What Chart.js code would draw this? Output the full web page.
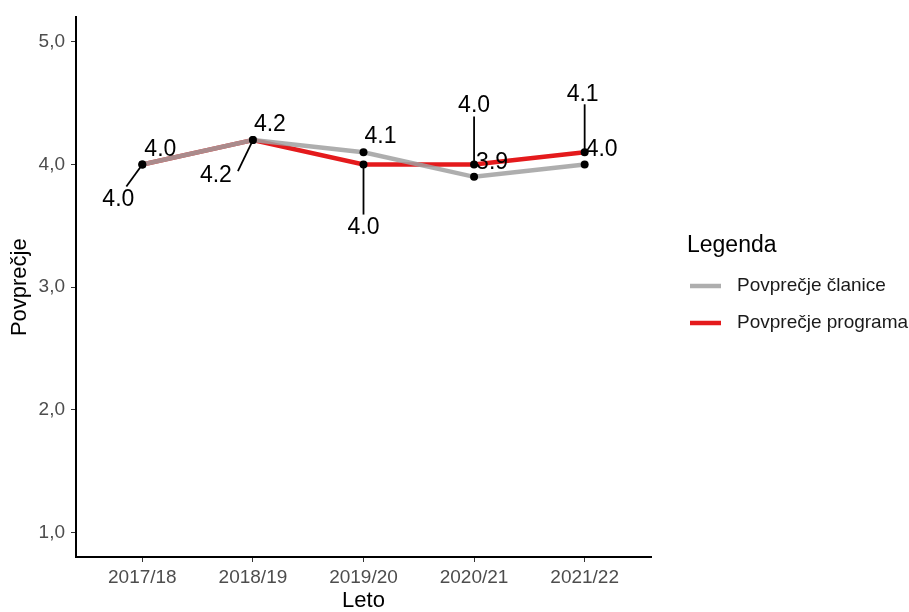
<!DOCTYPE html>
<html lang="sl">
<head>
    <meta charset="UTF-8">
    <title>Povprečje</title>
    <script src="https://cdn.jsdelivr.net/npm/chart.js"></script>
    <style>
        * {
            margin: 0;
            padding: 0;
            box-sizing: border-box;
        }

        body {
            background: white;
            font-family: "Liberation Sans", Arial, sans-serif;
        }

        .chart-wrap {
            width: 909px;
            height: 612px;
        }
    </style>
</head>
<body>
    <div class="chart-wrap">
        <canvas id="avg-chart"></canvas>
    </div>

    <script>
        // data
        const years = ['2017/18', '2018/19', '2019/20', '2020/21', '2021/22'];
        const clanice = [4.0, 4.2, 4.1, 3.9, 4.0];
        const programa = [4.0, 4.2, 4.0, 4.0, 4.1];
        const yTicks = [1, 2, 3, 4, 5];

        // label placement (px offsets from the point), like ggrepel did it
        const claniceLabelOffsets = [[18, -15], [17, -15], [17, -16], [18, -14], [17, -15]];
        const programaLabelOffsets = [[-24, 35], [-37, 36], [0, 63], [0, -59], [-2, -58]];
        const programaLeaderEnds = [[-16, 22], [-15, 31], [0, 50], [0, -48], [0, -48]];

        const FONT = '"Liberation Sans", Arial, sans-serif';
        const GRAY = 'rgba(160,160,160,0.85)';
        const RED = '#e41a1c';

        const pointLabels = {
            id: 'pointLabels',
            afterDatasetsDraw(chart) {
                const ctx = chart.ctx;
                const x = chart.scales.x, y = chart.scales.y;
                const sets = [
                    { values: clanice, offsets: claniceLabelOffsets, leaders: null },
                    { values: programa, offsets: programaLabelOffsets, leaders: programaLeaderEnds }
                ];
                ctx.save();
                ctx.strokeStyle = '#000';
                ctx.lineWidth = 1.8;
                ctx.fillStyle = '#000';
                ctx.font = '23px ' + FONT;
                ctx.textAlign = 'center';
                ctx.textBaseline = 'middle';
                sets.forEach(s => {
                    s.values.forEach((v, i) => {
                        const px = x.getPixelForValue(i);
                        const py = y.getPixelForValue(v);
                        if (s.leaders) {
                            ctx.beginPath();
                            ctx.moveTo(px, py);
                            ctx.lineTo(px + s.leaders[i][0], py + s.leaders[i][1]);
                            ctx.stroke();
                        }
                        ctx.fillText(v.toFixed(1), px + s.offsets[i][0], py + s.offsets[i][1]);
                    });
                });
                ctx.restore();
            }
        };

        const sideLegend = {
            id: 'sideLegend',
            afterDraw(chart) {
                const ctx = chart.ctx;
                ctx.save();
                ctx.fillStyle = '#000';
                ctx.textAlign = 'left';
                ctx.textBaseline = 'alphabetic';
                ctx.font = '23px ' + FONT;
                ctx.fillText('Legenda', 687, 252);
                ctx.font = '19px ' + FONT;
                ctx.textBaseline = 'middle';
                chart.data.datasets.forEach((ds, i) => {
                    const ly = 286 + i * 37;
                    ctx.strokeStyle = ds.borderColor;
                    ctx.lineWidth = 4.5;
                    ctx.beginPath();
                    ctx.moveTo(690, ly);
                    ctx.lineTo(721, ly);
                    ctx.stroke();
                    ctx.fillStyle = '#1a1a1a';
                    ctx.fillText(ds.label, 737, ly);
                });
                ctx.restore();
            }
        };

        const ctx = document.getElementById('avg-chart').getContext('2d');
        new Chart(ctx, {
            type: 'line',
            data: {
                datasets: [
                    {
                        label: 'Povprečje članice',
                        data: clanice.map((v, i) => ({ x: i, y: v })),
                        borderColor: GRAY,
                        borderWidth: 4.5,
                        pointRadius: 4,
                        pointBackgroundColor: '#000',
                        pointBorderWidth: 0,
                        tension: 0
                    },
                    {
                        label: 'Povprečje programa',
                        data: programa.map((v, i) => ({ x: i, y: v })),
                        borderColor: RED,
                        borderWidth: 4.5,
                        pointRadius: 4,
                        pointBackgroundColor: '#000',
                        pointBorderWidth: 0,
                        tension: 0
                    }
                ]
            },
            options: {
                responsive: true,
                maintainAspectRatio: false,
                animation: false,
                layout: {
                    padding: { top: 16, right: 258, left: 0, bottom: 0 }
                },
                plugins: {
                    legend: { display: false },
                    tooltip: { enabled: false }
                },
                scales: {
                    x: {
                        type: 'linear',
                        min: -0.6,
                        max: 4.6,
                        afterBuildTicks: s => { s.ticks = years.map((c, i) => ({ value: i })); },
                        afterFit: s => { s.height = 55; },
                        ticks: {
                            callback: v => years[v],
                            autoSkip: false,
                            maxRotation: 0,
                            color: '#4d4d4d',
                            padding: 4,
                            font: { family: FONT, size: 19 }
                        },
                        grid: { display: true, drawOnChartArea: false, drawTicks: true, tickLength: 5, color: '#333' },
                        border: { display: true, color: '#000', width: 2 },
                        title: {
                            display: true,
                            text: 'Leto',
                            color: '#000',
                            font: { family: FONT, size: 22, lineHeight: 1 },
                            padding: { top: 0, bottom: 0 }
                        }
                    },
                    y: {
                        min: 0.8,
                        max: 5.2,
                        afterBuildTicks: s => { s.ticks = yTicks.map(v => ({ value: v })); },
                        afterFit: s => { s.width = 76; },
                        ticks: {
                            callback: v => v.toFixed(1).replace('.', ','),
                            color: '#4d4d4d',
                            padding: 6,
                            font: { family: FONT, size: 19 }
                        },
                        grid: { display: true, drawOnChartArea: false, drawTicks: true, tickLength: 5, color: '#333' },
                        border: { display: true, color: '#000', width: 2 },
                        title: {
                            display: true,
                            text: 'Povprečje',
                            color: '#000',
                            font: { family: FONT, size: 22, lineHeight: 1 },
                            padding: { top: 9, bottom: 0 }
                        }
                    }
                }
            },
            plugins: [pointLabels, sideLegend]
        });
    </script>
</body>
</html>
